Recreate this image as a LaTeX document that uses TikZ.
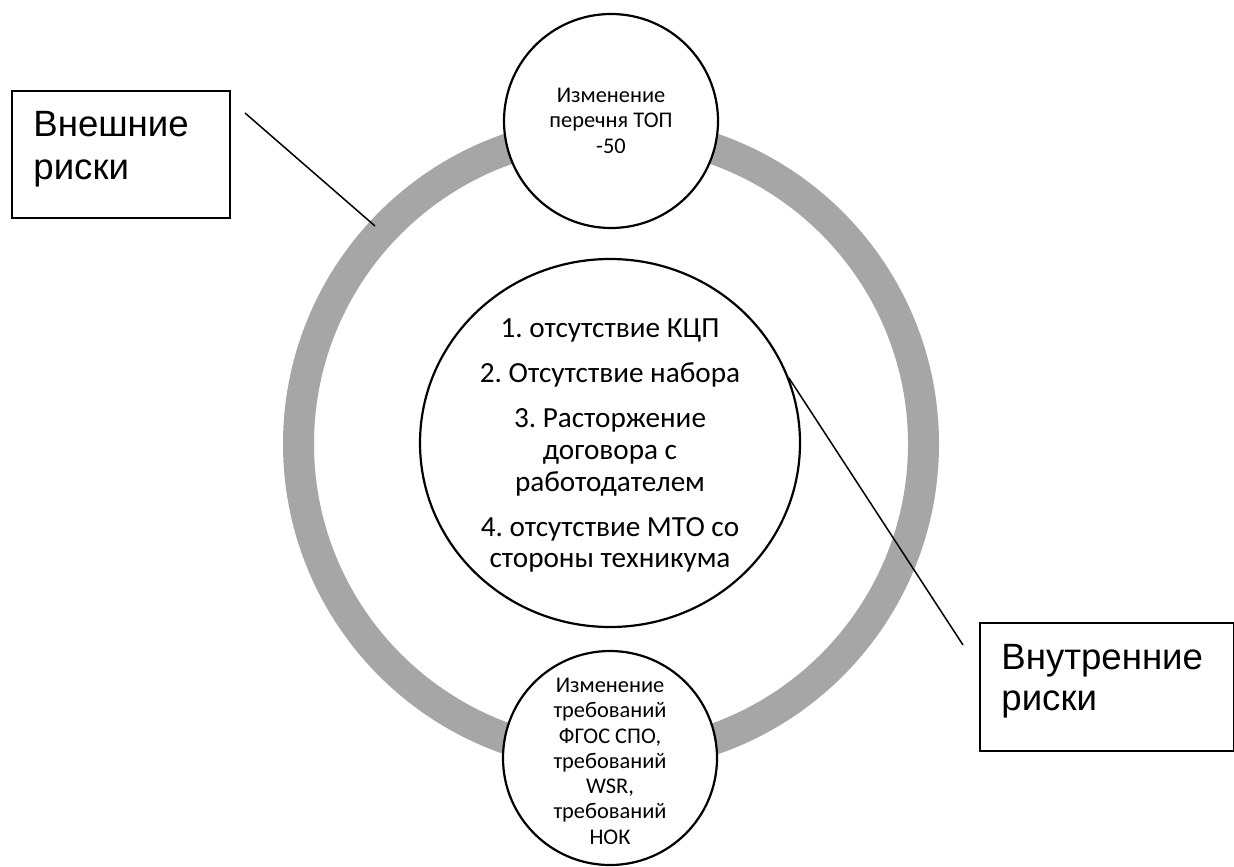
\documentclass[tikz,border=0pt]{standalone}
\usepackage{fontspec}
\setmainfont{Carlito}
\newfontfamily\arialf{Liberation Sans}
\usetikzlibrary{shapes.geometric}
\definecolor{ringgray}{HTML}{A6A6A6}
\frenchspacing
\begin{document}
\begin{tikzpicture}[x=0.5pt,y=-0.5pt,
  bub/.style={circle,draw=black,line width=1.1pt,fill=white,minimum size=107pt,inner sep=0pt},
  riskbox/.style={rectangle,draw=black,line width=1pt,fill=white,inner sep=0pt,anchor=north west},
  lead/.style={draw=black,line width=0.75pt},
  cl/.style={anchor=base,font=\fontsize{11.2}{12}\selectfont,inner sep=0pt},
  il/.style={anchor=base,font=\fontsize{14.6}{16}\selectfont,inner sep=0pt},
  bl/.style={anchor=base west,font=\arialf\fontsize{18.3}{21}\selectfont,inner sep=0pt}]
\useasboundingbox (0,0) rectangle (1234,866);
% ring
\node[circle,draw=ringgray,line width=15.5pt,minimum size=312.5pt,inner sep=0pt] (ring) at (611,444) {};
% inner circle
\node[ellipse,draw=black,line width=1.1pt,fill=white,minimum width=190pt,minimum height=184pt,inner sep=0pt] (inner) at (610,443) {};
% top and bottom bubbles
\node[bub] (top) at (611,121) {};
\node[bub] (bot) at (610,758) {};
% boxes
\node[riskbox,minimum width=109pt,minimum height=63.5pt] (ext) at (11,90) {};
\node[riskbox,minimum width=127pt,minimum height=64pt] (int) at (979,622) {};
% connectors
\coordinate (e1) at (245,113);
\coordinate (e2) at (375,226);
\draw[lead] (e1) -- (e2);
\coordinate (i2) at (963,645);
\draw[lead] (inner.20) -- (i2);
% box texts
\node[bl] (ext1) at (33,137) {Внешние};
\node[bl] (ext2) at (33,179) {риски};
\node[bl] (int1) at (1001,669) {Внутренние};
\node[bl] (int2) at (1001,710) {риски};
% top bubble text
\node[cl] (top1) at (611,103) {Изменение};
\node[cl] (top2) at (611,128) {перечня ТОП};
\node[cl] (top3) at (611,154) {-50};
% bottom bubble text
\node[cl] (bot1) at (610,692) {Изменение};
\node[cl] (bot2) at (610,717) {требований};
\node[cl] (bot3) at (610,743) {ФГОС СПО,};
\node[cl] (bot4) at (610,768) {требований};
\node[cl] (bot5) at (610,793) {WSR,};
\node[cl] (bot6) at (610,818) {требований};
\node[cl] (bot7) at (610,844) {НОК};
% inner text
\node[il] (in1) at (610,337) {1. отсутствие КЦП};
\node[il] (in2) at (610,382) {2. Отсутствие набора};
\node[il] (in3) at (610,427) {3. Расторжение};
\node[il] (in4) at (610,459) {договора с};
\node[il] (in5) at (610,491) {работодателем};
\node[il] (in6) at (610,536) {4. отсутствие МТО со};
\node[il] (in7) at (610,567) {стороны техникума};
\end{tikzpicture}
\end{document}
